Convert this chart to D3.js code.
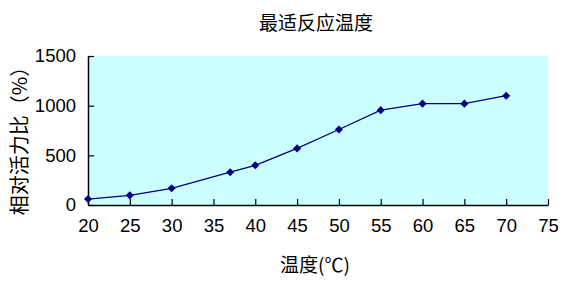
<!DOCTYPE html>
<html>
<head>
<meta charset="utf-8">
<script src="https://cdn.jsdelivr.net/npm/d3@7"></script>
<style>
  body { margin: 0; background: #fff; }
  .tick text { font-family: "Liberation Sans", Arial, sans-serif; font-size: 18.5px; fill: #000; }
  .cjk { font-family: "Noto Sans CJK SC", sans-serif; fill: #000; }
</style>
</head>
<body>
<div id="chart-area"></div>
<script>
// data
var temps = [20, 25, 30, 37, 40, 45, 50, 55, 60, 65, 70];
var activity = [60, 97, 168, 330, 400, 570, 760, 955, 1020, 1020, 1100];
var xTicks = [20, 25, 30, 35, 40, 45, 50, 55, 60, 65, 70, 75];
var yTicks = [0, 500, 1000, 1500];
var title = '最适反应温度';
var xTitle = '温度(℃)';
var yTitle = '相对活力比（%）';

var width = 571, height = 293;
var plotLeft = 88, plotRight = 548, plotTop = 56, plotBottom = 205;

var svg = d3.select('#chart-area').append('svg')
  .attr('width', width)
  .attr('height', height);

var x = d3.scaleLinear().domain([20, 75]).range([plotLeft, plotRight]);
var y = d3.scaleLinear().domain([0, 1500]).range([plotBottom, plotTop]);

// plot background
svg.append('rect')
  .attr('x', plotLeft)
  .attr('y', plotTop)
  .attr('width', plotRight - plotLeft)
  .attr('height', plotBottom - plotTop)
  .attr('fill', '#ccffff');

// axes, ticks pointing inward
var xAxis = svg.append('g')
  .attr('transform', 'translate(0,' + plotBottom + ')')
  .call(d3.axisBottom(x).tickValues(xTicks).tickSizeInner(-6).tickSizeOuter(0).tickPadding(10));
var yAxis = svg.append('g')
  .attr('transform', 'translate(' + plotLeft + ',0)')
  .call(d3.axisLeft(y).tickValues(yTicks).tickFormat(d3.format('d')).tickSizeInner(-6).tickSizeOuter(0).tickPadding(12));

svg.selectAll('.domain').attr('stroke', '#000').attr('stroke-width', 1.5);
svg.selectAll('.tick line').attr('stroke', '#000').attr('stroke-width', 1.2);
xAxis.selectAll('.tick text').attr('dy', '0.9em');

// line
var points = temps.map((t, i) => ({ t: t, v: activity[i] }));
var line = d3.line()
  .x(d => x(d.t))
  .y(d => y(d.v));

svg.append('path')
  .attr('d', line(points))
  .attr('fill', 'none')
  .attr('stroke', '#000080')
  .attr('stroke-width', 1.3);

svg.selectAll('path.marker')
  .data(points)
  .enter().append('path')
  .attr('class', 'marker')
  .attr('d', d3.symbol().type(d3.symbolDiamond2).size(42))
  .attr('transform', d => 'translate(' + x(d.t) + ',' + y(d.v) + ')')
  .attr('fill', '#000080');

// titles
svg.append('text')
  .attr('class', 'cjk')
  .attr('x', 316)
  .attr('y', 30)
  .attr('text-anchor', 'middle')
  .style('font-size', '19px')
  .text(title);

svg.append('text')
  .attr('class', 'cjk')
  .attr('x', 315)
  .attr('y', 272)
  .attr('text-anchor', 'middle')
  .style('font-size', '19px')
  .text(xTitle);

svg.append('text')
  .attr('class', 'cjk')
  .attr('transform', 'translate(27,136) rotate(-90)')
  .attr('text-anchor', 'middle')
  .style('font-size', '20px')
  .text(yTitle);
</script>
</body>
</html>
